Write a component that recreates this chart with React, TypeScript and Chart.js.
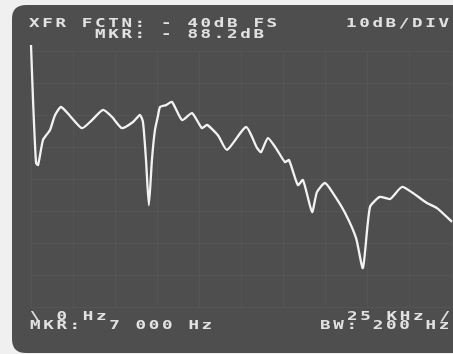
import React, { useEffect, useRef } from "react";
import { Chart, registerables } from "chart.js";

Chart.register(...registerables);

// Frequency in kHz (0 – 25 kHz span) and transfer-function level in dB
const freqKHz = [
  0, 0.12, 0.3, 0.42, 0.71, 0.95, 1.13, 1.43, 1.78, 2.32, 3.03, 3.62, 4.28, 4.81,
  5.4, 6.06, 6.47, 6.65, 6.83, 7.0, 7.18, 7.36, 7.54, 7.66, 8.02, 8.37, 8.97, 9.56,
  10.15, 10.45, 11.1, 11.64, 12.77, 13.42, 13.66, 14.07, 14.61, 15.08, 15.32, 15.85,
  16.15, 16.69, 16.98, 17.46, 17.93, 18.65, 19.3, 19.71, 20.13, 20.72, 21.32, 22.03,
  22.68, 23.51, 24.11, 25.0,
];
const levelDb = [
  -38.1, -55.3, -75.0, -75.6, -67.8, -66.0, -64.7, -60.0, -57.5, -60.3, -64.1, -61.6,
  -58.4, -60.6, -64.1, -62.2, -60.0, -62.2, -74.1, -88.2, -74.1, -64.7, -60.3, -57.5,
  -56.9, -55.9, -61.6, -59.4, -64.1, -63.1, -66.3, -70.9, -63.75, -70.3, -71.6, -67.2,
  -70.9, -74.7, -74.1, -81.9, -80.3, -90.3, -84.1, -81.25, -84.4, -90.6, -98.4, -107.8,
  -88.75, -85.6, -86.25, -82.5, -84.4, -87.5, -89.1, -93.4,
];

const topLine1 = "XFR FCTN: - 40dB FS";
const topLine2 = "MKR: - 88.2dB";
const topRight = "10dB/DIV";
const botLeft1 = "\\ 0 Hz";
const botLeft2 = "MKR:  7 000 Hz";
const botRight1 = "25 KHz /";
const botRight2 = "BW: 200 Hz";

const screenPlugin = {
  id: "screen",
  beforeDraw(chart: any) {
    const ctx = chart.ctx;
    const w = chart.width;
    const h = chart.height;
    ctx.save();
    ctx.fillStyle = "#f0f0f0";
    ctx.fillRect(0, 0, w, h);
    ctx.fillStyle = "#4e4e4e";
    const x = 12, y = 5, rw = w + 20, rh = h - 6, r = 14;
    ctx.beginPath();
    ctx.moveTo(x + r, y);
    ctx.lineTo(x + rw, y);
    ctx.lineTo(x + rw, y + rh);
    ctx.lineTo(x + r, y + rh);
    ctx.quadraticCurveTo(x, y + rh, x, y + rh - r);
    ctx.lineTo(x, y + r);
    ctx.quadraticCurveTo(x, y, x + r, y);
    ctx.closePath();
    ctx.fill();
    ctx.restore();
  },
};

const PITCH = 13.2;
const textStyle = (left: number, top: number): React.CSSProperties => ({
  position: "absolute",
  left,
  top,
  fontFamily: "'DejaVu Sans Mono', monospace",
  fontWeight: "bold",
  fontSize: 13,
  lineHeight: "13px",
  letterSpacing: `${PITCH / 1.35 - 13 * 0.602}px`,
  transform: "scaleX(1.35)",
  transformOrigin: "left top",
  color: "#e2e2e2",
  whiteSpace: "pre",
  zIndex: 2,
});

export default function App() {
  const ref = useRef<HTMLCanvasElement | null>(null);

  useEffect(() => {
    if (!ref.current) return;
    const chart = new Chart(ref.current, {
      type: "line",
      data: {
        datasets: [
          {
            data: freqKHz.map((f, i) => ({ x: f, y: levelDb[i] })),
            borderColor: "#f2f2f2",
            borderWidth: 2.3,
            pointRadius: 0,
            tension: 0.2,
            borderJoinStyle: "round",
            clip: false as any,
          },
        ],
      },
      options: {
        responsive: false,
        animation: false,
        layout: { padding: { left: 31, right: 1, top: 51, bottom: 47 } },
        plugins: { legend: { display: false }, tooltip: { enabled: false } },
        scales: {
          x: {
            type: "linear",
            min: 0,
            max: 25,
            ticks: { display: false, stepSize: 2.5 },
            grid: { drawTicks: false, color: "rgba(255,255,255,0.035)", lineWidth: 1 },
            border: { display: false },
          },
          y: {
            type: "linear",
            min: -120,
            max: -40,
            ticks: { display: false, stepSize: 10 },
            grid: { drawTicks: false, color: "rgba(255,255,255,0.035)", lineWidth: 1 },
            border: { display: false },
          },
        },
      },
      plugins: [screenPlugin],
    });
    return () => chart.destroy();
  }, []);

  return (
    <div style={{ position: "fixed", left: 0, top: 0, width: 453, height: 354, overflow: "hidden" }}>
      <canvas ref={ref} width={453} height={354} style={{ position: "absolute", left: 0, top: 0 }} />
      <div style={textStyle(29, 15.5)}>{topLine1}</div>
      <div style={textStyle(29 + 5 * PITCH, 26.5)}>{topLine2}</div>
      <div style={textStyle(29 + 24 * PITCH, 15.5)}>{topRight}</div>
      <div style={textStyle(30, 308.5)}>{botLeft1}</div>
      <div style={textStyle(30, 317.5)}>{botLeft2}</div>
      <div style={textStyle(30 + 24 * PITCH, 308.5)}>{botRight1}</div>
      <div style={textStyle(30 + 22 * PITCH, 317.5)}>{botRight2}</div>
    </div>
  );
}
